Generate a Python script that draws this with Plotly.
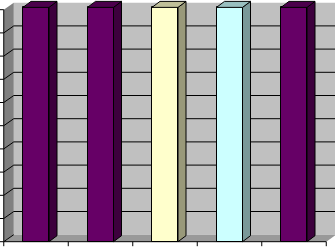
import plotly.graph_objects as go

# ---- data ----
categories = ["A", "B", "C", "D", "E"]
values = [10.1, 10.1, 10.1, 10.1, 10.1]
front_colors = ["#660066", "#660066", "#FFFFCC", "#CCFFFF", "#660066"]
side_colors = ["#3D003D", "#3D003D", "#99997A", "#7A9999", "#3D003D"]
top_colors = ["#4C004C", "#4C004C", "#BFBF99", "#99BFBF", "#4C004C"]
y_ticks = list(range(0, 11))

# ---- geometry (pixel scale -> data units) ----
W, H = 335, 247
px_per_x = 64.5
px_per_y = 23.2
x0 = -36 / px_per_x
x1 = x0 + W / px_per_x
y_bottom_px = 241.7
y_lo = -(H - y_bottom_px) / px_per_y
y_hi = y_bottom_px / px_per_y

wall_dx = 10 / px_per_x
wall_dy = 7 / px_per_y
bar_dx = 8 / px_per_x
bar_dy = 6 / px_per_y
bar_w = 26 / px_per_x
n = len(categories)
xl = -0.5
xr = n - 0.5
ymax = 10

shapes = []
# back wall
shapes.append(dict(type="rect", xref="x", yref="y", layer="below",
                   x0=xl + wall_dx, x1=x1 + 1, y0=wall_dy, y1=ymax + wall_dy,
                   fillcolor="#C0C0C0", line=dict(width=0)))
# side wall
shapes.append(dict(type="path", xref="x", yref="y", layer="below",
                   path=f"M{xl},0 L{xl+wall_dx},{wall_dy} L{xl+wall_dx},{ymax+wall_dy} L{xl},{ymax} Z",
                   fillcolor="#808080", line=dict(width=0)))
# floor
shapes.append(dict(type="path", xref="x", yref="y", layer="below",
                   path=f"M{xl},0 L{xl+wall_dx},{wall_dy} L{xr+wall_dx},{wall_dy} L{xr},0 Z",
                   fillcolor="#999999", line=dict(width=0)))
# gridlines on back wall
for k in y_ticks[1:-1]:
    shapes.append(dict(type="line", xref="x", yref="y", layer="below",
                       x0=xl + wall_dx, x1=x1 + 1, y0=k + wall_dy, y1=k + wall_dy,
                       line=dict(color="black", width=1)))
# gridlines on side wall
for k in y_ticks[:-1]:
    shapes.append(dict(type="line", xref="x", yref="y", layer="below",
                       x0=xl, x1=xl + wall_dx, y0=k, y1=k + wall_dy,
                       line=dict(color="black", width=1)))
# axis lines
shapes.append(dict(type="line", xref="x", yref="y", layer="above",
                   x0=xl, x1=xl, y0=0, y1=ymax, line=dict(color="black", width=1)))
shapes.append(dict(type="line", xref="x", yref="y", layer="above",
                   x0=xl, x1=xr, y0=0, y1=0, line=dict(color="black", width=1)))
# y ticks
for k in y_ticks:
    shapes.append(dict(type="line", xref="x", yref="y", layer="above",
                       x0=x0, x1=xl, y0=k, y1=k, line=dict(color="black", width=1)))
# x ticks (category boundaries)
for i in range(n + 1):
    shapes.append(dict(type="line", xref="x", yref="y", layer="above",
                       x0=i - 0.5, x1=i - 0.5, y0=0, y1=-4.5 / px_per_y,
                       line=dict(color="black", width=1)))

fig = go.Figure()
fig.add_trace(go.Bar(x=list(range(n)), y=values, width=bar_w,
                     marker=dict(color=front_colors, line=dict(color="black", width=1)),
                     hoverinfo="skip", showlegend=False))

for i, v in enumerate(values):
    l = i - bar_w / 2
    r = i + bar_w / 2
    # side face
    fig.add_trace(go.Scatter(
        x=[r, r + bar_dx, r + bar_dx, r, r],
        y=[0, bar_dy, v + bar_dy, v, 0],
        mode="lines", fill="toself", fillcolor=side_colors[i],
        line=dict(color="black", width=1), hoverinfo="skip", showlegend=False))
    # top face
    fig.add_trace(go.Scatter(
        x=[l, l + bar_dx, r + bar_dx, r, l],
        y=[v, v + bar_dy, v + bar_dy, v, v],
        mode="lines", fill="toself", fillcolor=top_colors[i],
        line=dict(color="black", width=1), hoverinfo="skip", showlegend=False))

fig.update_layout(
    width=W, height=H, margin=dict(l=0, r=0, t=0, b=0),
    paper_bgcolor="white", plot_bgcolor="white",
    xaxis=dict(range=[x0, x1], visible=False, fixedrange=True),
    yaxis=dict(range=[y_lo, y_hi], visible=False, fixedrange=True),
    shapes=shapes, bargap=0,
)
fig.write_html("out.html")
